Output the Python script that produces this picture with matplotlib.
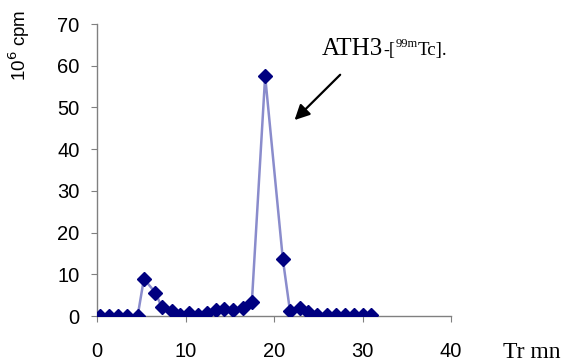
import matplotlib
matplotlib.use("Agg")
import matplotlib.pyplot as plt

time_min = [0.3, 1.4, 2.4, 3.4, 4.6, 5.3, 6.6, 7.3, 8.5, 9.4, 10.4, 11.4, 12.4, 13.4,
            14.4, 15.4, 16.5, 17.5, 19.0, 21.0, 21.8, 22.9, 23.8, 24.9, 26.0, 27.0,
            28.0, 29.0, 30.0, 31.0]
cpm = [0.1, 0.1, 0.1, 0.1, 0.1, 8.9, 5.6, 2.2, 1.3, 0.2, 0.6, 0.2, 0.6, 1.5,
       1.6, 1.5, 2.0, 3.4, 57.5, 13.6, 1.3, 1.9, 1.0, 0.2, 0.2, 0.2,
       0.2, 0.2, 0.2, 0.2]
x_ticks = [0, 10, 20, 30, 40]
y_ticks = [0, 10, 20, 30, 40, 50, 60, 70]

W, H = 570, 363
fig = plt.figure(figsize=(W / 100, H / 100), dpi=100)
ax = fig.add_axes([97 / W, 1 - 316 / H, 354 / W, 292 / H])

ax.plot(time_min, cpm, color="#8a8ccc", lw=1.8, zorder=2)
ax.plot(time_min, cpm, ls="none", marker="D", ms=7.5, color="#000080", zorder=3)

ax.set_xlim(0, 40)
ax.set_ylim(0, 70)
ax.set_xticks(x_ticks)
ax.set_yticks(y_ticks)
for s in ["top", "right"]:
    ax.spines[s].set_visible(False)
for s in ["left", "bottom"]:
    ax.spines[s].set_color("#808080")
    ax.spines[s].set_linewidth(1.0)
ax.tick_params(direction="out", length=4.5, color="#808080", labelsize=14.5,
               labelfontfamily="Liberation Sans")
ax.tick_params(axis="x", pad=14.5)
ax.tick_params(axis="y", pad=8)

fig.text(19 / W, 1 - 45 / H, r"10$^{6}$ cpm", rotation=90, ha="center", va="center",
         fontsize=13.5, family="Liberation Sans")
fig.text(503 / W, 1 - 358 / H, "Tr mn", ha="left", va="baseline", fontsize=17,
         family="Liberation Serif")

ax.annotate("", xy=(22.1, 46.5), xytext=(27.7, 58.3),
            arrowprops=dict(arrowstyle="-|>,head_length=0.9,head_width=0.45",
                            color="black", lw=1.6))

# label "ATH3-[99mTc]." built from pieces on a common baseline
renderer = fig.canvas.get_renderer()
pieces = [("ATH3", 18, 0), ("-[", 13, 0), ("99m", 9, 8), ("Tc].", 13.5, 0)]
x_px = 322
base_px = 55
for txt, size, rise in pieces:
    t = fig.text(x_px / W, 1 - (base_px - rise) / H, txt, ha="left", va="baseline",
                 fontsize=size, family="Liberation Serif")
    bb = t.get_window_extent(renderer=renderer)
    x_px += bb.width

fig.savefig("out.png", dpi=100)
